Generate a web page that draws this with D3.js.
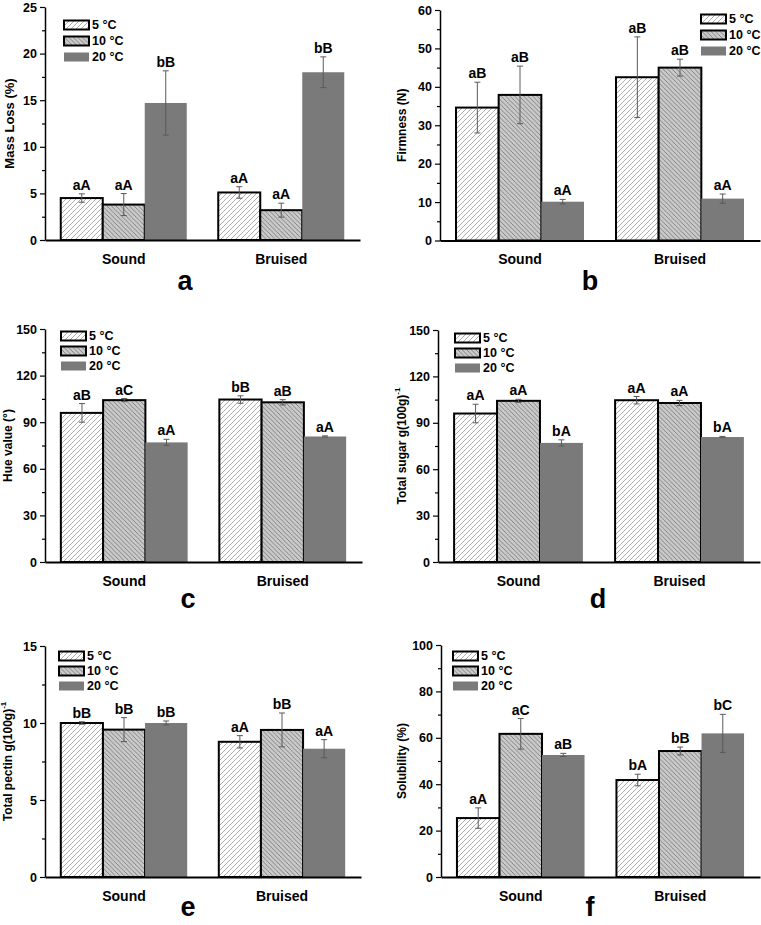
<!DOCTYPE html>
<html><head><meta charset="utf-8">
<script src="https://cdn.jsdelivr.net/npm/d3@7"></script>
<style>
body{margin:0;background:#fff}
svg{display:block}
text{font-family:"Liberation Sans",Arial,Helvetica,sans-serif;font-weight:bold;fill:#000}
</style>
</head><body>
<svg id="chart" width="761" height="925"></svg>
<script>
// ---------- DATA ----------
const categories = ["Sound", "Bruised"];
const temps = ["5 °C", "10 °C", "20 °C"];

const massLossMeans = [[4.5, 3.8, 14.7], [5.1, 3.2, 18.0]];
const massLossErrors = [[0.45, 1.18, 3.45], [0.62, 0.75, 1.65]];
const massLossLetters = [["aA", "aA", "bB"], ["aA", "aA", "bB"]];

const firmnessMeans = [[34.6, 37.9, 10.1], [42.5, 45.0, 10.9]];
const firmnessErrors = [[6.6, 7.5, 0.6], [10.5, 2.2, 1.2]];
const firmnessLetters = [["aB", "aB", "aA"], ["aB", "aB", "aA"]];

const hueMeans = [[96.0, 104.2, 77.0], [104.6, 102.8, 80.8]];
const hueErrors = [[6.0, 1.0, 2.0], [2.4, 1.7, 0.4]];
const hueLetters = [["aB", "aC", "aA"], ["bB", "aB", "aA"]];

const sugarMeans = [[96.0, 104.2, 77.0], [104.6, 102.8, 80.8]];
const sugarErrors = [[6.0, 1.0, 2.0], [2.4, 1.7, 0.4]];
const sugarLetters = [["aA", "aA", "bA"], ["aA", "aA", "bA"]];

const pectinMeans = [[10.0, 9.57, 10.0], [8.78, 9.55, 8.33]];
const pectinErrors = [[0.08, 0.78, 0.13], [0.4, 1.1, 0.59]];
const pectinLetters = [["bB", "bB", "bB"], ["aA", "bB", "aA"]];

const solubilityMeans = [[25.4, 61.7, 52.6], [41.8, 54.3, 61.9]];
const solubilityErrors = [[4.4, 6.6, 0.7], [2.5, 1.7, 8.2]];
const solubilityLetters = [["aA", "aC", "aB"], ["bA", "bB", "bC"]];

const massLossTicks = [0, 5, 10, 15, 20, 25];
const firmnessTicks = [0, 10, 20, 30, 40, 50, 60];
const hueTicks = [0, 30, 60, 90, 120, 150];
const sugarTicks = [0, 30, 60, 90, 120, 150];
const pectinTicks = [0, 5, 10, 15];
const solubilityTicks = [0, 20, 40, 60, 80, 100];

// ---------- LAYOUT ----------
const panels = [
  {id:"a", means:massLossMeans, errs:massLossErrors, letters:massLossLetters, ticks:massLossTicks,
   title:"Mass Loss (%)", sup:null, titleSize:13,
   x0:45, x1:360, yTop:7, yBot:240, titleX:9, legX:64, legY:25, legDy:16, letterX:185, letterY:290},
  {id:"b", means:firmnessMeans, errs:firmnessErrors, letters:firmnessLetters, ticks:firmnessTicks,
   title:"Firmness (N)", sup:null, titleSize:12,
   x0:440, x1:760, yTop:10, yBot:240.5, titleX:402, legX:701, legY:19, legDy:16, letterX:590, letterY:290},
  {id:"c", means:hueMeans, errs:hueErrors, letters:hueLetters, ticks:hueTicks,
   title:"Hue value (°)", sup:null, titleSize:12,
   x0:45, x1:362, yTop:329, yBot:562, titleX:8, legX:61, legY:336, legDy:15, letterX:188, letterY:608},
  {id:"d", means:sugarMeans, errs:sugarErrors, letters:sugarLetters, ticks:sugarTicks,
   title:"Total sugar g(100g)", sup:"-1", titleSize:12,
   x0:438, x1:760, yTop:330, yBot:562, titleX:402, legX:455, legY:338, legDy:15, letterX:598, letterY:608},
  {id:"e", means:pectinMeans, errs:pectinErrors, letters:pectinLetters, ticks:pectinTicks,
   title:"Total pectin g(100g)", sup:"-1", titleSize:12,
   x0:45, x1:361, yTop:646, yBot:877, titleX:8, legX:59, legY:656, legDy:15, letterX:188, letterY:916},
  {id:"f", means:solubilityMeans, errs:solubilityErrors, letters:solubilityLetters, ticks:solubilityTicks,
   title:"Solubility (%)", sup:null, titleSize:12,
   x0:441, x1:760, yTop:645, yBot:877, titleX:402, legX:453, legY:656, legDy:15, letterX:590, letterY:916}
];

const svg = d3.select("#chart");
const defs = svg.append("defs");

// hatch patterns
const p5 = defs.append("pattern").attr("id","hatch5").attr("patternUnits","userSpaceOnUse")
  .attr("width",5).attr("height",5);
p5.append("rect").attr("width",5).attr("height",5).attr("fill","#ffffff");
p5.append("path").attr("d","M0,5 L5,0 M-1,1 L1,-1 M4,6 L6,4")
  .attr("stroke","#909090").attr("stroke-width",0.75);

const p10 = defs.append("pattern").attr("id","hatch10").attr("patternUnits","userSpaceOnUse")
  .attr("width",4.5).attr("height",4.5);
p10.append("rect").attr("width",4.5).attr("height",4.5).attr("fill","#cacaca");
p10.append("path").attr("d","M0,0 L4.5,4.5 M-1,3.5 L1,5.5 M3.5,-1 L5.5,1")
  .attr("stroke","#6a6a6a").attr("stroke-width",0.75);

const fills = ["url(#hatch5)", "url(#hatch10)", "#7a7a7a"];
const strokes = ["#000", "#000", "none"];

const FONT = '"Liberation Sans", Arial, Helvetica, sans-serif';

panels.forEach(p => {
  const g = svg.append("g");
  const y = d3.scaleLinear().domain([0, d3.max(p.ticks)]).range([p.yBot, p.yTop]);
  const x = d3.scaleBand().domain(categories).range([p.x0, p.x1]).paddingInner(0.2).paddingOuter(0.1);
  const xi = d3.scaleBand().domain(temps).range([0, x.bandwidth()]);

  const rows = [];
  categories.forEach((c, ci) => temps.forEach((t, ti) => rows.push({
    c, t, ti, m: p.means[ci][ti], e: p.errs[ci][ti], lab: p.letters[ci][ti]
  })));

  // bars
  g.selectAll("rect.bar").data(rows).join("rect")
    .attr("x", d => x(d.c) + xi(d.t))
    .attr("width", xi.bandwidth())
    .attr("y", d => y(d.m))
    .attr("height", d => y(0) - y(d.m))
    .attr("fill", d => fills[d.ti])
    .attr("stroke", d => strokes[d.ti])
    .attr("stroke-width", 2);

  // error bars
  const eb = g.selectAll("g.err").data(rows).join("g").attr("class","err");
  const cx = d => x(d.c) + xi(d.t) + xi.bandwidth() / 2;
  eb.append("line").attr("x1", cx).attr("x2", cx)
    .attr("y1", d => y(d.m - d.e)).attr("y2", d => y(d.m + d.e));
  eb.append("line").attr("x1", d => cx(d) - 3).attr("x2", d => cx(d) + 3)
    .attr("y1", d => y(d.m + d.e)).attr("y2", d => y(d.m + d.e));
  eb.append("line").attr("x1", d => cx(d) - 3).attr("x2", d => cx(d) + 3)
    .attr("y1", d => y(d.m - d.e)).attr("y2", d => y(d.m - d.e));
  eb.selectAll("line").attr("stroke", "#5a5a5a").attr("stroke-width", 1);

  // significance letters
  g.selectAll("text.sig").data(rows).join("text")
    .attr("x", cx).attr("y", d => y(d.m + d.e) - 4)
    .attr("text-anchor","middle").attr("font-size", 14).text(d => d.lab);

  // y axis: minor ticks
  const step = p.ticks[1] - p.ticks[0];
  const minor = p.ticks.slice(0, -1).map(v => v + step / 2);
  g.append("g").attr("transform", `translate(${p.x0},0)`)
    .call(d3.axisLeft(y).tickValues(minor).tickSize(3).tickFormat("").tickSizeOuter(0))
    .call(s => s.select(".domain").remove())
    .call(s => s.selectAll("line").attr("stroke-width", 1.2));
  // y axis: major ticks
  const ya = g.append("g").attr("transform", `translate(${p.x0},0)`)
    .call(d3.axisLeft(y).tickValues(p.ticks).tickSize(5).tickPadding(3).tickSizeOuter(0).tickFormat(d3.format("d")));
  ya.selectAll("text").attr("font-size", 12.5).attr("font-family", FONT).attr("font-weight","bold");
  ya.selectAll("line").attr("stroke-width", 1.2);
  ya.select(".domain").attr("stroke-width", 1.5);

  // x axis
  const xa = g.append("g").attr("transform", `translate(0,${p.yBot})`)
    .call(d3.axisBottom(x).tickSize(0).tickPadding(14).tickSizeOuter(0));
  xa.selectAll("text").attr("font-size", 14).attr("font-family", FONT).attr("font-weight","bold");
  xa.select(".domain").attr("stroke-width", 2);

  // y title
  const tt = g.append("text")
    .attr("transform", `translate(${p.titleX},${(p.yTop + p.yBot) / 2}) rotate(-90)`)
    .attr("text-anchor","middle").attr("dominant-baseline","central").attr("font-size", p.titleSize);
  tt.append("tspan").text(p.title);
  if (p.sup) tt.append("tspan").attr("font-size", 8).attr("dy", -5).text(p.sup);

  // legend
  temps.forEach((t, i) => {
    const ly = p.legY + i * p.legDy;
    g.append("rect").attr("x", p.legX).attr("y", ly - 4.5).attr("width", 25).attr("height", 9)
      .attr("fill", fills[i]).attr("stroke", strokes[i]).attr("stroke-width", 2);
    g.append("text").attr("x", p.legX + 28).attr("y", ly).attr("dominant-baseline","central")
      .attr("font-size", 12.5).text(t);
  });

  // panel letter
  g.append("text").attr("x", p.letterX).attr("y", p.letterY).attr("text-anchor","middle")
    .attr("font-size", 27).text(p.id);
});
</script>
</body></html>
